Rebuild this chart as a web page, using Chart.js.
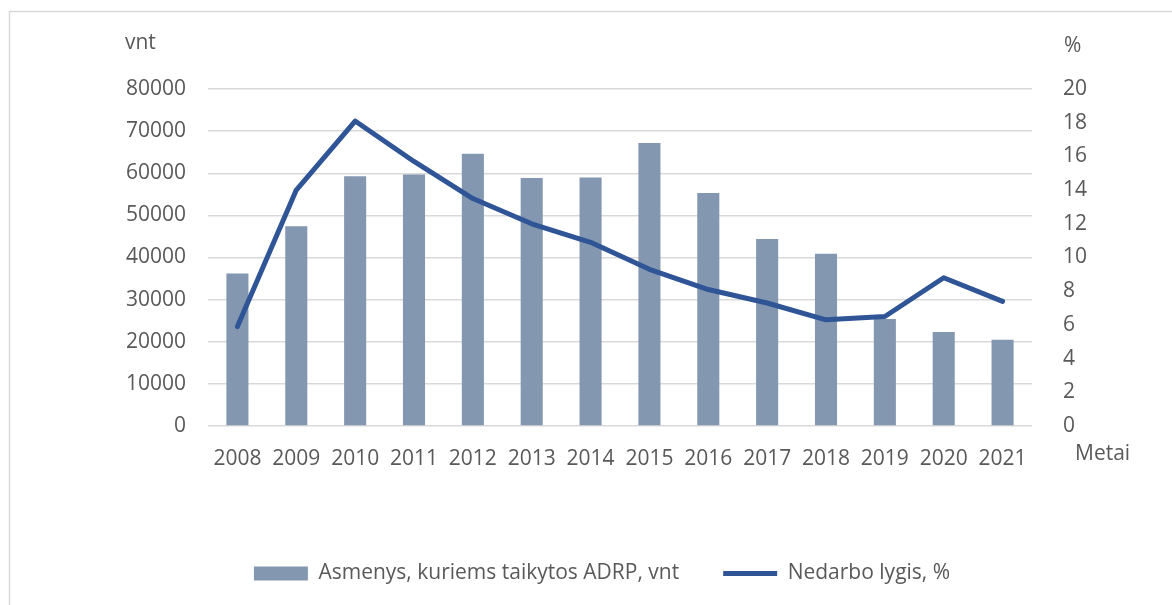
<!DOCTYPE html>
<html>
<head>
<meta charset="utf-8">
<script src="https://cdn.jsdelivr.net/npm/chart.js@4/dist/chart.umd.min.js"></script>
<style>
  html, body { margin: 0; padding: 0; background: #fff; }
  #wrap { position: relative; width: 1172px; height: 605px; }
</style>
</head>
<body>
<div id="wrap"><canvas id="chart"></canvas></div>
<script>
var years = ["2008", "2009", "2010", "2011", "2012", "2013", "2014", "2015", "2016", "2017", "2018", "2019", "2020", "2021"];
var adrpPersons = [36200, 47400, 59300, 59700, 64600, 58900, 59000, 67200, 55300, 44400, 40900, 25400, 22300, 20500];
var unemployment = [5.9, 14.0, 18.1, 15.7, 13.5, 12.0, 10.9, 9.3, 8.1, 7.3, 6.3, 6.5, 8.8, 7.4];
var leftTicks = [0, 10000, 20000, 30000, 40000, 50000, 60000, 70000, 80000];
var rightTicks = [0, 2, 4, 6, 8, 10, 12, 14, 16, 18, 20];

var TEXT = '#595959';
var FONT = '"Open Sans", sans-serif';

// frame + axis unit captions
var extras = {
    id: 'extras',
    beforeDraw: function (chart) {
        var ctx = chart.ctx;
        ctx.save();
        ctx.strokeStyle = '#D9D9D9';
        ctx.lineWidth = 1.5;
        ctx.beginPath();
        ctx.moveTo(9.5, 605);
        ctx.lineTo(9.5, 11.5);
        ctx.lineTo(1172, 11.5);
        ctx.stroke();
        ctx.restore();
    },
    afterDraw: function (chart) {
        var ctx = chart.ctx;
        ctx.save();
        ctx.fillStyle = TEXT;
        ctx.font = '21px ' + FONT;
        ctx.textBaseline = 'middle';
        ctx.textAlign = 'left';
        ctx.fillText('vnt', 125, 43);
        ctx.fillText('%', 1064, 46);
        ctx.fillText('Metai', 1075, 454);
        ctx.restore();
    }
};

new Chart(document.getElementById('chart'), {
    type: 'bar',
    data: {
        labels: years,
        datasets: [{
            type: 'line',
            label: 'Nedarbo lygis, %',
            data: unemployment,
            yAxisID: 'y2',
            borderColor: '#2F5597',
            backgroundColor: '#2F5597',
            borderWidth: 5,
            borderCapStyle: 'round',
            borderJoinStyle: 'round',
            pointRadius: 0,
            pointStyle: 'line',
            tension: 0,
            order: 1
        }, {
            label: 'Asmenys, kuriems taikytos ADRP, vnt',
            data: adrpPersons,
            yAxisID: 'y',
            backgroundColor: '#8497B0',
            barPercentage: 0.375,
            categoryPercentage: 1,
            pointStyle: 'rect',
            order: 2
        }]
    },
    options: {
        responsive: true,
        maintainAspectRatio: false,
        animation: false,
        layout: { padding: { top: 89, left: 32, right: 0, bottom: 11 } },
        plugins: {
            tooltip: { enabled: false },
            legend: {
                position: 'bottom',
                reverse: true,
                labels: {
                    usePointStyle: true,
                    pointStyleWidth: 54,
                    boxHeight: 14,
                    padding: 44,
                    color: TEXT,
                    font: { family: FONT, size: 21 }
                }
            }
        },
        scales: {
            x: {
                grid: { display: false },
                border: { display: false },
                ticks: { color: TEXT, font: { family: FONT, size: 21 }, padding: 12, maxRotation: 0 },
                afterFit: function (scale) { scale.height = 93; }
            },
            y: {
                position: 'left',
                min: 0,
                max: 80000,
                afterBuildTicks: function (scale) {
                    scale.ticks = leftTicks.map(function (v) { return { value: v }; });
                },
                grid: { color: '#D9D9D9', lineWidth: 1.5, drawTicks: false },
                border: { display: false },
                ticks: {
                    color: TEXT, font: { family: FONT, size: 21 }, padding: 22,
                    callback: function (v) { return String(v); }
                },
                afterFit: function (scale) { scale.width = 176; }
            },
            y2: {
                position: 'right',
                min: 0,
                max: 20,
                afterBuildTicks: function (scale) {
                    scale.ticks = rightTicks.map(function (v) { return { value: v }; });
                },
                grid: { display: false, drawTicks: false },
                border: { display: false },
                ticks: {
                    color: TEXT, font: { family: FONT, size: 21 }, padding: 31,
                    callback: function (v) { return String(v); }
                },
                afterFit: function (scale) { scale.width = 140; }
            }
        }
    },
    plugins: [extras]
});
</script>
</body>
</html>
